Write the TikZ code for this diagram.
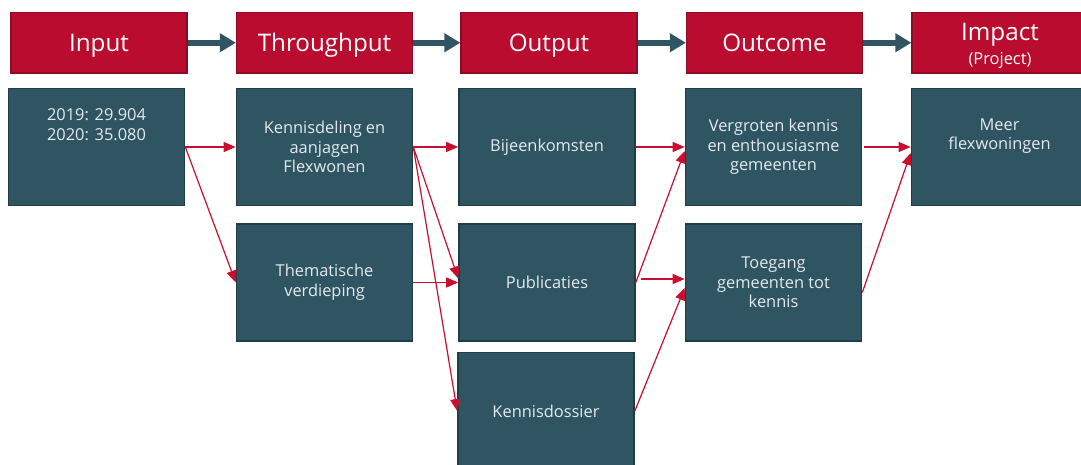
\documentclass[tikz,border=0pt]{standalone}
\usepackage{fontspec}
\setmainfont{Open Sans}
\usetikzlibrary{arrows.meta}
\definecolor{hdred}{HTML}{BA0C2F}
\definecolor{hdredline}{HTML}{8E0B26}
\definecolor{boxblue}{HTML}{2F5563}
\definecolor{boxline}{HTML}{1F3C47}
\definecolor{boxtext}{HTML}{E4E9EB}
\definecolor{linkred}{HTML}{C8102E}

\begin{document}
\begin{tikzpicture}[x=.5pt,y=-.5pt,
  head/.style={draw=hdredline,fill=hdred,text=white,line width=.6pt,
    minimum width=88pt,minimum height=30.25pt,inner sep=0pt,
    text height=8.7pt,text depth=0pt,
    font=\fontsize{12.1}{15}\selectfont},
  box/.style={draw=boxline,fill=boxblue,text=boxtext,line width=.8pt,
    minimum width=88pt,minimum height=58.5pt,inner sep=0pt,align=center,
    font=\fontsize{8.2}{9.8}\selectfont},
  flow/.style={-{Triangle[length=8pt,width=9pt]},line width=3pt,boxblue},
  link/.style={-{Triangle[length=6pt,width=5pt]},line width=.6pt,linkred}]
\clip (0,0) rectangle (1081,465);
%
% kopjes
\node[head] (hin) at (99,42.75) {Input};
\node[head] (hthr) at (324.5,42.75) {Throughput};
\node[head] (hout) at (549,42.75) {Output};
\node[head] (hoc) at (774.5,42.75) {Outcome};
\node[head,align=center,text height=22pt,text depth=-1pt] (himp) at (1000,42.75)
  {Impact\\[-3pt]{\fontsize{8.2}{9}\selectfont (Project)}};
\draw[flow] (hin) -- (hthr);
\draw[flow] (hthr) -- (hout);
\draw[flow] (hout) -- (hoc);
\draw[flow] (hoc) -- (himp);
%
% blokken
\node[box] (din) at (96.5,147) {2019: 29.904\\2020: 35.080\\\strut\\\strut};
\node[box] (dthr) at (324.5,147) {Kennisdeling en\\aanjagen\\Flexwonen};
\node[box] (dout) at (547,147) {Bijeenkomsten};
\node[box] (doc) at (773.5,147) {Vergroten kennis\\en enthousiasme\\gemeenten};
\node[box] (dimp) at (999.5,147) {Meer\\flexwoningen\\\strut};
\node[box] (them) at (324.5,282.5) {Thematische\\verdieping};
\node[box] (pub) at (547,282.5) {Publicaties};
\node[box] (toeg) at (773.5,282.5) {Toegang\\gemeenten tot\\kennis};
\node[box] (dos) at (546,411) {Kennisdossier};
%
% verbanden
\draw[link] (din.east) -- (dthr.west);
\draw[link] (din.east) -- (them.west);
\draw[link] (dthr.east) -- (dout.west);
\draw[link] (dthr.east) -- ([yshift=2pt]pub.west);
\draw[link] (dthr.east) -- (dos.west);
\draw[link] (them.east) -- (pub.west);
\draw[link] (dout.east) -- (doc.west);
\draw[link] (pub.east) -- ([yshift=-2pt]doc.west);
\draw[link] ([xshift=2.5pt,yshift=1.75pt]pub.east) -- ([yshift=1.75pt]toeg.west);
\draw[link] (dos.east) -- ([yshift=-2.75pt]toeg.west);
\draw[link] ([xshift=1pt]doc.east) -- (dimp.west);
\draw[link] ([yshift=-5pt]toeg.east) -- ([yshift=-3pt]dimp.west);
%
\end{tikzpicture}
\end{document}
